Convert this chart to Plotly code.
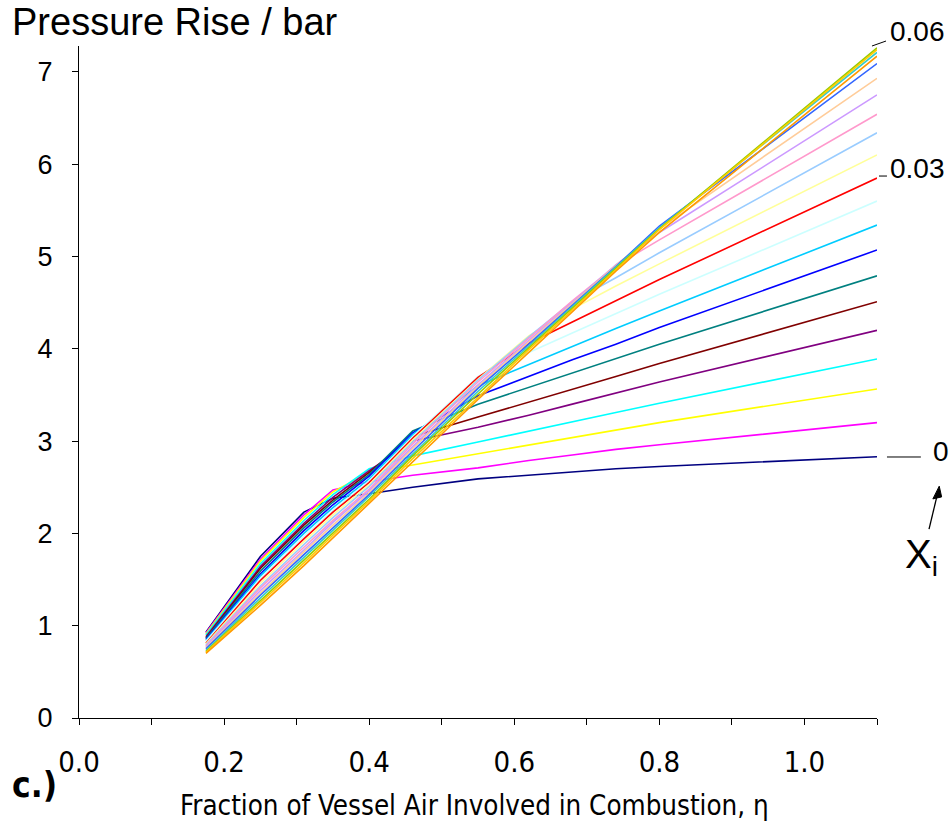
import plotly.graph_objects as go

# Fraction of vessel air involved in combustion (eta) - shared grid
eta = [0.175, 0.25, 0.31, 0.35, 0.40, 0.46, 0.55, 0.62, 0.68, 0.74, 0.80, 1.10]

# Series labels (X_i)
xi_labels = ["0", "0.003", "0.006", "0.009", "0.012", "0.015", "0.018", "0.021",
             "0.024", "0.027", "0.03", "0.033", "0.036", "0.039", "0.042", "0.045",
             "0.048", "0.051", "0.054", "0.057", "0.06"]

# Pressure rise / bar for each X_i
p00 = [0.93, 1.75, 2.23, 2.38, 2.43, 2.50, 2.59, 2.63, 2.66, 2.70, 2.725, 2.83]
p01 = [0.92, 1.72, 2.20, 2.47, 2.56, 2.63, 2.71, 2.79, 2.85, 2.91, 2.96, 3.20]
p02 = [0.91, 1.70, 2.17, 2.45, 2.66, 2.74, 2.86, 2.96, 3.04, 3.12, 3.20, 3.565]
p03 = [0.90, 1.67, 2.14, 2.42, 2.70, 2.84, 2.99, 3.11, 3.21, 3.31, 3.41, 3.89]
p04 = [0.88, 1.64, 2.11, 2.39, 2.68, 3.00, 3.15, 3.28, 3.40, 3.52, 3.64, 4.20]
p05 = [0.87, 1.62, 2.09, 2.36, 2.66, 3.05, 3.26, 3.42, 3.56, 3.70, 3.84, 4.51]
p06 = [0.86, 1.59, 2.06, 2.34, 2.64, 3.11, 3.40, 3.58, 3.74, 3.89, 4.05, 4.79]
p07 = [0.85, 1.56, 2.03, 2.31, 2.62, 3.09, 3.49, 3.70, 3.88, 4.05, 4.23, 5.07]
p08 = [0.84, 1.54, 2.00, 2.28, 2.59, 3.07, 3.60, 3.83, 4.02, 4.22, 4.41, 5.34]
p09 = [0.83, 1.51, 1.97, 2.25, 2.57, 3.05, 3.70, 3.96, 4.17, 4.38, 4.59, 5.60]
p10 = [0.81, 1.49, 1.94, 2.23, 2.55, 3.03, 3.69, 4.06, 4.29, 4.52, 4.75, 5.85]
p11 = [0.80, 1.46, 1.91, 2.20, 2.53, 3.01, 3.67, 4.14, 4.43, 4.68, 4.92, 6.10]
p12 = [0.79, 1.43, 1.88, 2.17, 2.51, 2.99, 3.66, 4.13, 4.51, 4.77, 5.04, 6.34]
p13 = [0.78, 1.41, 1.85, 2.14, 2.48, 2.97, 3.64, 4.11, 4.52, 4.90, 5.18, 6.54]
p14 = [0.77, 1.38, 1.82, 2.12, 2.46, 2.94, 3.61, 4.09, 4.50, 4.91, 5.26, 6.75]
p15 = [0.76, 1.35, 1.80, 2.09, 2.44, 2.92, 3.59, 4.07, 4.49, 4.90, 5.30, 6.93]
p16 = [0.75, 1.33, 1.77, 2.06, 2.42, 2.89, 3.57, 4.05, 4.47, 4.89, 5.33, 7.09]
p17 = [0.73, 1.30, 1.74, 2.03, 2.40, 2.86, 3.54, 4.03, 4.46, 4.88, 5.31, 7.21]
p18 = [0.72, 1.27, 1.71, 2.01, 2.37, 2.84, 3.51, 4.01, 4.44, 4.87, 5.30, 7.26]
p19 = [0.71, 1.25, 1.68, 1.98, 2.35, 2.81, 3.48, 3.99, 4.42, 4.85, 5.29, 7.24]
p20 = [0.70, 1.22, 1.65, 1.95, 2.33, 2.78, 3.45, 3.96, 4.40, 4.84, 5.26, 7.17]

series = [p00, p01, p02, p03, p04, p05, p06, p07, p08, p09, p10,
          p11, p12, p13, p14, p15, p16, p17, p18, p19, p20]

colors = ["#000080", "#FF00FF", "#FFFF00", "#00FFFF", "#800080", "#800000",
          "#008080", "#0000FF", "#00CCFF", "#CCFFFF", "#FF0000", "#FFFF99",
          "#99CCFF", "#FF99CC", "#CC99FF", "#FFCC99", "#3366FF", "#33CCCC",
          "#99CC00", "#FFCC00", "#FF9900"]

x_tickvals = [0.0, 0.2, 0.4, 0.6, 0.8, 1.0]
x_ticktext = ["0.0", "0.2", "0.4", "0.6", "0.8", "1.0"]
y_tickvals = [0, 1, 2, 3, 4, 5, 6, 7]

fig = go.Figure()
for lab, ys, col in zip(xi_labels, series, colors):
    fig.add_trace(go.Scatter(x=eta, y=ys, mode="lines", name=lab,
                             line=dict(color=col, width=1.6), cliponaxis=False))

narrow = "DejaVu Sans Condensed, Liberation Sans Narrow, Liberation Sans, sans-serif"
arial = "Liberation Sans, Arial, sans-serif"

fig.update_layout(
    width=949, height=823,
    margin=dict(l=79, r=72, t=46, b=105, autoexpand=False),
    paper_bgcolor="white", plot_bgcolor="white",
    showlegend=False,
    font=dict(family=arial, color="black"),
)
fig.update_xaxes(range=[0, 1.1], tickvals=x_tickvals, ticktext=x_ticktext,
                 showline=True, linecolor="black", linewidth=1,
                 ticks="outside", ticklen=6, tickcolor="black",
                 minor=dict(ticks="outside", ticklen=6, tickcolor="black",
                            tick0=0, dtick=0.1, showgrid=False),
                 showgrid=False, zeroline=False, automargin=False,
                 tickfont=dict(family=narrow, size=29, color="black"),
                 ticklabelstandoff=12)
fig.update_yaxes(range=[0, 7.28], tickvals=y_tickvals,
                 showline=True, linecolor="black", linewidth=1,
                 ticks="outside", ticklen=6, tickcolor="black",
                 showgrid=False, zeroline=False, automargin=False,
                 tickfont=dict(family=arial, size=27, color="black"),
                 ticklabelstandoff=14)

# axis titles / panel label
fig.add_annotation(xref="paper", yref="paper", x=-0.086, y=1.036,
                   xanchor="left", yanchor="middle", showarrow=False,
                   text="Pressure Rise / bar", font=dict(size=38, family=arial))
fig.add_annotation(xref="paper", yref="paper", x=0.496, y=-0.129,
                   xanchor="center", yanchor="middle", showarrow=False,
                   text="Fraction of Vessel Air Involved in Combustion, η",
                   font=dict(size=27.5, family=narrow))
fig.add_annotation(xref="paper", yref="paper", x=-0.086, y=-0.1,
                   xanchor="left", yanchor="middle", showarrow=False,
                   text="<b>c.)</b>", font=dict(size=35, family=narrow))

# right-side X_i labels (paper coordinates)
fig.add_annotation(xref="paper", yref="paper", x=1.014, y=1.021,
                   xanchor="left", yanchor="middle", showarrow=False,
                   text="0.06", font=dict(size=28))
fig.add_annotation(xref="paper", yref="paper", x=1.014, y=0.818,
                   xanchor="left", yanchor="middle", showarrow=False,
                   text="0.03", font=dict(size=28))
fig.add_annotation(xref="paper", yref="paper", x=1.068, y=0.396,
                   xanchor="left", yanchor="middle", showarrow=False,
                   text="0", font=dict(size=28))
fig.add_shape(type="line", xref="paper", yref="paper",
              x0=0.9937, y0=1.0, x1=1.0113, y1=1.0074,
              line=dict(color="black", width=1))
fig.add_shape(type="line", xref="paper", yref="paper",
              x0=1.0025, y0=0.8065, x1=1.0125, y1=0.8065,
              line=dict(color="black", width=1))
fig.add_shape(type="line", xref="paper", yref="paper",
              x0=1.0125, y0=0.3884, x1=1.055, y1=0.3884,
              line=dict(color="black", width=1))
# arrow pointing up from X_i toward the "0" label
fig.add_shape(type="line", xref="paper", yref="paper",
              x0=1.0652, y0=0.281, x1=1.0765, y1=0.337,
              line=dict(color="black", width=1.3))
fig.add_shape(type="path", xref="paper", yref="paper",
              path="M 1.0780 0.345 L 1.0700 0.326 L 1.0810 0.329 Z",
              fillcolor="black", line=dict(color="black", width=1))
fig.add_annotation(xref="paper", yref="paper", x=1.033, y=0.24,
                   xanchor="left", yanchor="middle", showarrow=False,
                   text="X<sub>i</sub>", font=dict(size=40))

fig.write_html("out.html", config={"displayModeBar": False},
               post_script="document.body.style.margin='0px';")
